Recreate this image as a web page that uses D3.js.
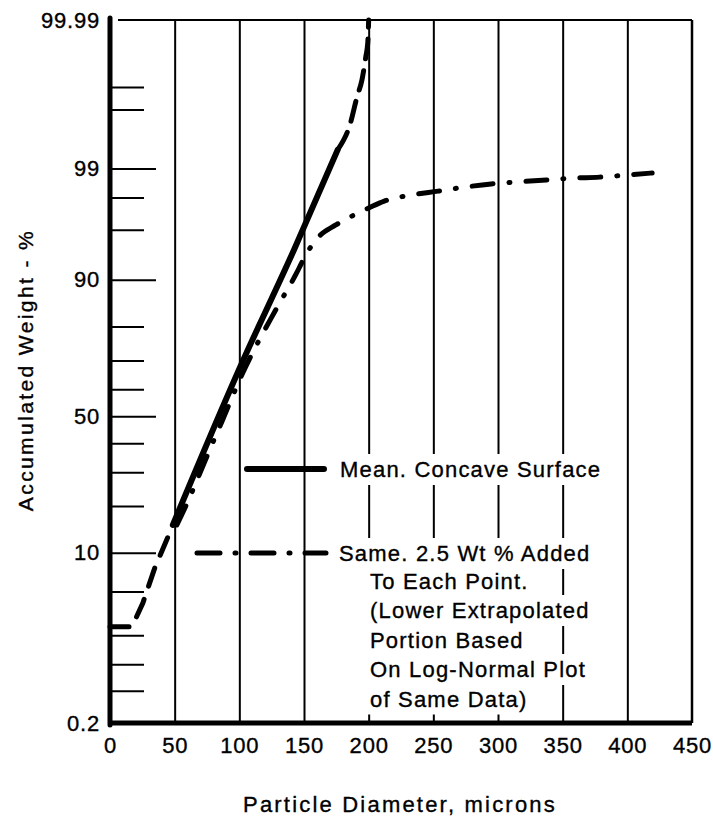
<!DOCTYPE html>
<html>
<head>
<meta charset="utf-8">
<script src="https://cdn.jsdelivr.net/npm/d3@7"></script>
<style>
  body { margin: 0; background: #fff; }
  svg { font-family: "Liberation Sans", Arial, Helvetica, sans-serif; }
  text { stroke: #000; stroke-width: 0.35px; }
</style>
</head>
<body>
<svg id="chart" width="713" height="818"></svg>
<script>
// x axis ticks, microns
const xTicks = [0, 50, 100, 150, 200, 250, 300, 350, 400, 450];
// probability axis (percent)
const yLabelTicks = [0.2, 10, 50, 90, 99, 99.99];
const yLabelText = ["0.2", "10", "50", "90", "99", "99.99"];
const yMinorTicks = [0.5, 1, 2, 5, 20, 30, 40, 60, 70, 80, 96, 98, 99.8, 99.9];

// series [diameter, accumulated weight %]
const meanSurface = [[48.6, 15.4], [100.3, 67.5], [142.3, 94.1], [176, 99.38]];
const lowerExtrap = [[0, 2.41], [17, 2.41], [25.4, 3.99], [34.6, 7.73], [46.2, 13.75], [48.6, 15.4]];
const upperExtrap = [[176, 99.38], [185.8, 99.70], [191, 99.864], [194.8, 99.92], [197.8, 99.963], [199.3, 99.977], [200, 99.99]];
const addedSeries = [[51.7, 15.4], [59.7, 20.8], [76, 36.5], [86.4, 47.9], [101.9, 65.1], [128.9, 84.5],
  [144.3, 91.07], [148.5, 92.6], [153.7, 94.07], [161.2, 95.38], [174.6, 96.37], [188.8, 97.06], [200, 97.47],
  [212.1, 97.83], [233, 98.11], [253.8, 98.27], [275, 98.43], [294.7, 98.54], [315.9, 98.61], [337.3, 98.67],
  [357.7, 98.73], [378.5, 98.76], [399.2, 98.82], [419.2, 98.88]];

const meanLabel = "Mean. Concave Surface";
const addedLabel = ["Same. 2.5 Wt % Added", "To Each Point.", "(Lower Extrapolated", "Portion Based", "On Log-Normal Plot", "of Same Data)"];
const xTitle = "Particle Diameter, microns";
const yTitle = "Accumulated Weight - %";

// inverse normal cdf (Acklam)
function probit(p) {
  const a = [-3.969683028665376e+01, 2.209460984245205e+02, -2.759285104469687e+02, 1.383577518672690e+02, -3.066479806614716e+01, 2.506628277459239e+00];
  const b = [-5.447609879822406e+01, 1.615858368580409e+02, -1.556989798598866e+02, 6.680131188771972e+01, -1.328068155288572e+01];
  const c = [-7.784894002430293e-03, -3.223964580411365e-01, -2.400758277161838e+00, -2.549732539343734e+00, 4.374664141464968e+00, 2.938163982698783e+00];
  const d = [7.784695709041462e-03, 3.224671290700398e-01, 2.445134137142996e+00, 3.754408661907416e+00];
  const pl = 0.02425;
  let q, r;
  if (p < pl) {
    q = Math.sqrt(-2 * Math.log(p));
    return (((((c[0]*q+c[1])*q+c[2])*q+c[3])*q+c[4])*q+c[5]) / ((((d[0]*q+d[1])*q+d[2])*q+d[3])*q+1);
  }
  if (p <= 1 - pl) {
    q = p - 0.5; r = q * q;
    return (((((a[0]*r+a[1])*r+a[2])*r+a[3])*r+a[4])*r+a[5])*q / (((((b[0]*r+b[1])*r+b[2])*r+b[3])*r+b[4])*r+1);
  }
  q = Math.sqrt(-2 * Math.log(1 - p));
  return -(((((c[0]*q+c[1])*q+c[2])*q+c[3])*q+c[4])*q+c[5]) / ((((d[0]*q+d[1])*q+d[2])*q+d[3])*q+1);
}

const LEFT = 110, RIGHT = 692, TOP = 20, BOTTOM = 723;
const x = d3.scaleLinear().domain([0, 450]).range([LEFT, RIGHT]);
const z = d3.scaleLinear().domain([probit(0.002), probit(0.9999)]).range([BOTTOM, TOP]);
const y = p => z(probit(p / 100));

const svg = d3.select("#chart");

// vertical grid
const grid = svg.append("g").attr("transform", `translate(0,${BOTTOM})`)
  .call(d3.axisBottom(x).tickValues(xTicks.slice(1, -1)).tickSize(-(BOTTOM - TOP)).tickFormat(""));
grid.select(".domain").remove();
grid.selectAll(".tick line").attr("stroke", "#000").attr("stroke-width", 2);

// top and right frame
svg.append("line").attr("x1", LEFT + 8).attr("x2", RIGHT).attr("y1", TOP).attr("y2", TOP)
  .attr("stroke", "#000").attr("stroke-width", 2);
svg.append("line").attr("x1", RIGHT).attr("x2", RIGHT).attr("y1", TOP).attr("y2", BOTTOM)
  .attr("stroke", "#000").attr("stroke-width", 2.5);

// notes with white boxes that break the grid
const FONT = 22;
function boxedText(tx, ty, str) {
  const g = svg.append("g");
  const t = g.append("text").attr("x", tx).attr("y", ty).attr("font-size", FONT)
    .attr("letter-spacing", 1.2).attr("fill", "#000").text(str);
  const bb = t.node().getBBox();
  g.insert("rect", "text").attr("x", bb.x - 6).attr("y", bb.y - 3)
    .attr("width", bb.width + 10).attr("height", bb.height + 6).attr("fill", "#fff");
}
boxedText(340, 477, meanLabel);
addedLabel.forEach((s, i) => boxedText(i === 0 ? 339 : 370, 561 + i * 29.5 - (i > 0 ? 2 : 0), s));

// legend samples
svg.append("line").attr("x1", 247).attr("x2", 324).attr("y1", 469).attr("y2", 469)
  .attr("stroke", "#000").attr("stroke-width", 6).attr("stroke-linecap", "round");
svg.append("line").attr("x1", 197).attr("x2", 326).attr("y1", 553).attr("y2", 553)
  .attr("stroke", "#000").attr("stroke-width", 5).attr("stroke-linecap", "round")
  .attr("stroke-dasharray", "23,15,1,15");

// curves
const line = d3.line().x(d => x(d[0])).y(d => y(d[1]));
svg.append("path").datum(lowerExtrap).attr("d", line.curve(d3.curveLinear))
  .attr("fill", "none").attr("stroke", "#000").attr("stroke-width", 5)
  .attr("stroke-linecap", "round").attr("stroke-dasharray", "19,14");
svg.append("path").datum(upperExtrap).attr("d", line.curve(d3.curveMonotoneX))
  .attr("fill", "none").attr("stroke", "#000").attr("stroke-width", 5)
  .attr("stroke-linecap", "round").attr("stroke-dasharray", "20,12");
svg.append("path").datum(addedSeries).attr("d", line.curve(d3.curveMonotoneX))
  .attr("fill", "none").attr("stroke", "#000").attr("stroke-width", 5)
  .attr("stroke-linecap", "round").attr("stroke-dasharray", "21,16,1,16");
svg.append("path").datum(meanSurface).attr("d", line.curve(d3.curveMonotoneX))
  .attr("fill", "none").attr("stroke", "#000").attr("stroke-width", 6).attr("stroke-linecap", "round");

// inner ticks on probability axis
const minor = svg.append("g").attr("transform", `translate(${LEFT},0)`)
  .call(d3.axisRight(z).tickValues(yMinorTicks.map(p => probit(p / 100))).tickSize(34).tickFormat(""));
minor.select(".domain").remove();
const major = svg.append("g").attr("transform", `translate(${LEFT},0)`)
  .call(d3.axisRight(z).tickValues(yLabelTicks.slice(1, -1).map(p => probit(p / 100))).tickSize(46).tickFormat(""));
major.select(".domain").remove();
svg.selectAll(".tick line").filter(function() { return this.parentNode.parentNode !== grid.node(); })
  .attr("stroke", "#000").attr("stroke-width", 2);

// y labels
const yAxis = svg.append("g").attr("transform", `translate(${LEFT},0)`)
  .call(d3.axisLeft(z).tickValues(yLabelTicks.map(p => probit(p / 100)))
    .tickFormat((d, i) => yLabelText[i]).tickSize(0).tickPadding(10));
yAxis.select(".domain").remove();
yAxis.selectAll("text").attr("font-size", FONT).attr("font-family", null).attr("fill", "#000").attr("letter-spacing", 0.8);

// x labels
const xAxis = svg.append("g").attr("transform", `translate(0,${BOTTOM})`)
  .call(d3.axisBottom(x).tickValues(xTicks).tickSize(0).tickPadding(14));
xAxis.select(".domain").remove();
xAxis.selectAll("text").attr("font-size", FONT).attr("font-family", null).attr("fill", "#000").attr("letter-spacing", 0.8);

// heavy left and bottom axes
svg.append("line").attr("x1", LEFT).attr("x2", LEFT).attr("y1", TOP - 2).attr("y2", BOTTOM + 2)
  .attr("stroke", "#000").attr("stroke-width", 5).attr("stroke-linecap", "round");
svg.append("line").attr("x1", LEFT - 2).attr("x2", RIGHT).attr("y1", BOTTOM).attr("y2", BOTTOM)
  .attr("stroke", "#000").attr("stroke-width", 5);

// titles
svg.append("text").attr("x", 400).attr("y", 812).attr("text-anchor", "middle")
  .attr("font-size", FONT).attr("letter-spacing", 2.2).text(xTitle);
svg.append("text").attr("transform", "translate(33,370) rotate(-90)").attr("text-anchor", "middle")
  .attr("font-size", 21).attr("letter-spacing", 2.4).text(yTitle);
</script>
</body>
</html>
